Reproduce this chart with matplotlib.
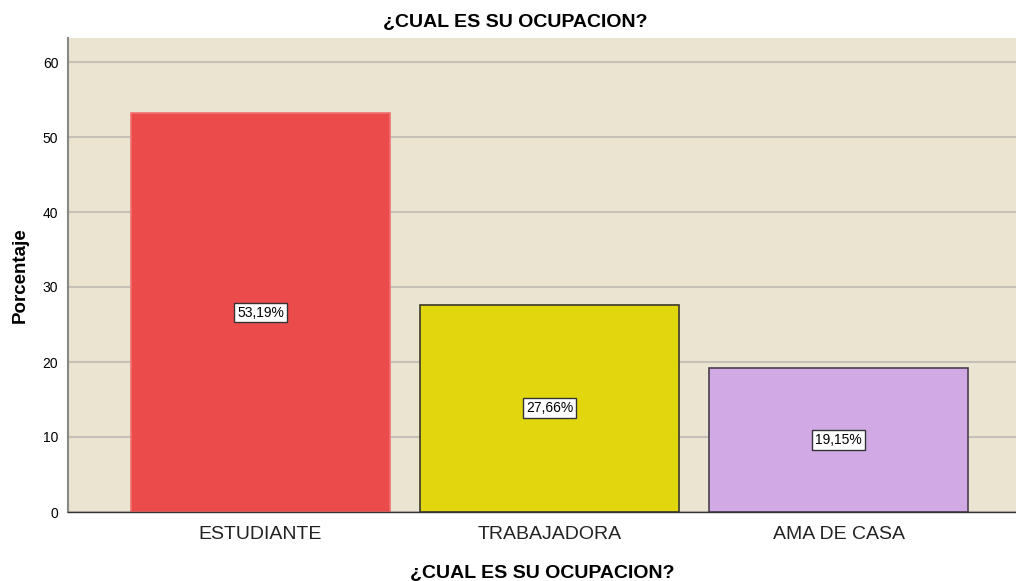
import numpy as np
import matplotlib.pyplot as plt

plt.rcParams["font.family"] = ["Liberation Sans", "DejaVu Sans"]

# Datos
categorias = ["ESTUDIANTE", "TRABAJADORA", "AMA DE CASA"]
porcentajes = [53.19, 27.66, 19.15]
etiquetas = ["53,19%", "27,66%", "19,15%"]
colores = ["#EC4B4B", "#E2D70E", "#D0A9E5"]
bordes = ["#F07070", "#3A3A2A", "#4A4050"]

fig = plt.figure(figsize=(10.16, 5.81), dpi=100)
ax = fig.add_axes([68 / 1016, 69 / 581, 948 / 1016, 474 / 581])

x = np.arange(len(categorias))
ax.set_facecolor("#EAE4D0")
ax.yaxis.grid(True, color="#C5C0B8", linewidth=1.5)
ax.set_axisbelow(True)

bars = ax.bar(x, porcentajes, width=0.896, color=colores, edgecolor=bordes, linewidth=1.2, zorder=2)

for xi, val, lab in zip(x, porcentajes, etiquetas):
    ax.text(xi, val / 2, lab, ha="center", va="center", fontsize=10, zorder=3,
            bbox=dict(boxstyle="square,pad=0.2", facecolor="white", edgecolor="#333333", linewidth=1))

ax.set_xlim(-0.666, 2.614)
ax.set_ylim(0, 63.2)
ax.set_yticks([0, 10, 20, 30, 40, 50, 60])
ax.set_xticks(x)
ax.set_xticklabels(categorias, fontsize=14, color="#222222")
ax.tick_params(axis="y", labelsize=10, length=0, pad=7)
ax.tick_params(axis="x", length=0, pad=10)

for s in ["top", "right"]:
    ax.spines[s].set_visible(False)
ax.spines["left"].set_color("#888888")
ax.spines["left"].set_linewidth(1.5)
ax.spines["bottom"].set_color("#333333")
ax.spines["bottom"].set_linewidth(1.0)

ax.set_ylabel("Porcentaje", fontsize=13.5, fontweight="bold", labelpad=10)
ax.set_xlabel("¿CUAL ES SU OCUPACION?", fontsize=14, fontweight="bold", labelpad=16)
fig.text(515 / 1016, 1 - 22 / 581, "¿CUAL ES SU OCUPACION?", ha="center", va="center",
         fontsize=14, fontweight="bold")

fig.savefig("out.png", dpi=100)
